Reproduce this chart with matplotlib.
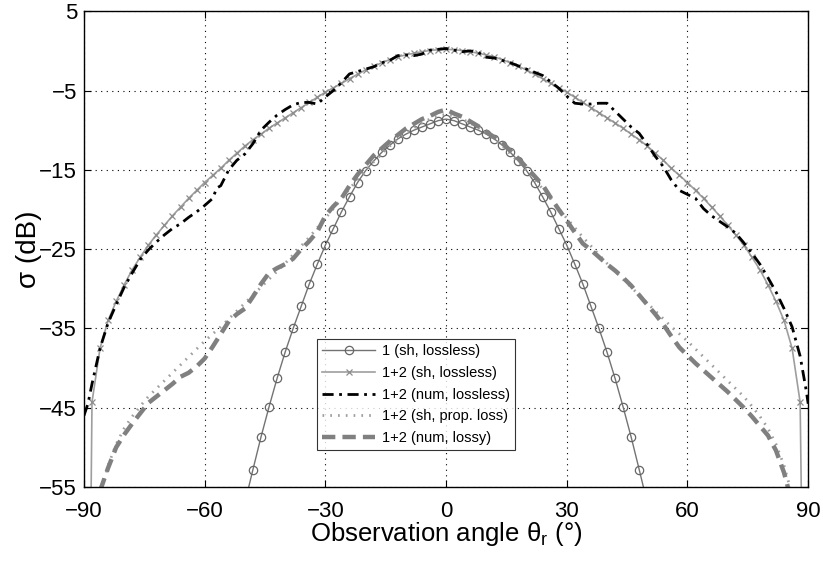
import numpy as np
import matplotlib
matplotlib.use("Agg")
import matplotlib.pyplot as plt

plt.rcParams['font.family'] = ['Liberation Sans', 'DejaVu Sans']

# angles (deg) for the curves
ang_1sh = list(range(-50, 51, 2))
# 1 (sh, lossless): circles
s_1sh = [-57.0, -52.8, -48.7, -44.9, -41.3, -38.0, -35.0, -32.2, -29.4, -26.9,
         -24.5, -22.4, -20.3, -18.4, -16.6, -15.1, -13.9, -12.8, -11.9, -11.1,
         -10.5, -10.0, -9.6, -9.2, -8.8, -8.6, -8.8, -9.2, -9.6, -10.0,
         -10.5, -11.1, -11.9, -12.8, -13.9, -15.1, -16.6, -18.4, -20.3, -22.4,
         -24.5, -26.9, -29.4, -32.2, -35.0, -38.0, -41.3, -44.9, -48.7, -52.8,
         -57.0]

# 1+2 (sh, lossless): crosses
ang_12sh = [-88.3] + list(range(-88, 89, 2)) + [88.4]
s_12sh = [-60.0,
          -44.3, -37.5, -34.0, -31.6, -29.5, -27.6, -26.0, -24.5, -23.2, -22.0,
          -20.8, -19.7, -18.6, -17.6, -16.6, -15.7, -14.8, -13.8, -12.9, -12.0,
          -11.2, -10.5, -9.75, -9.1, -8.45, -7.8, -7.15, -6.5, -5.85, -5.2,
          -4.65, -4.1, -3.5, -2.95, -2.4, -1.95, -1.5, -1.1, -0.75, -0.5,
          -0.3, -0.1, 0.05, 0.15, 0.2, 0.15, 0.05, -0.1, -0.3, -0.5,
          -0.75, -1.1, -1.5, -1.95, -2.4, -2.95, -3.5, -4.1, -4.65, -5.2,
          -5.85, -6.5, -7.15, -7.8, -8.45, -9.1, -9.75, -10.5, -11.2, -12.0,
          -12.9, -13.8, -14.8, -15.7, -16.6, -17.6, -18.6, -19.7, -20.8, -22.0,
          -23.2, -24.5, -26.0, -27.6, -29.5, -31.6, -34.0, -37.5, -44.3,
          -60.0]

# 1+2 (num, lossless): dash-dot black
ang_num = [-90, -89, -88, -86, -84, -82, -80, -78, -76, -74, -72, -70, -68, -66,
           -64, -62, -60, -58, -57, -56, -54, -52, -50, -48, -46, -44, -42,
           -40, -38, -36, -34, -32, -30, -28, -26, -24, -22, -20, -18, -16,
           -14, -12, -10, -8, -6, -4, -2, 0, 2, 4, 6, 8, 10, 12, 14, 16, 18,
           20, 22, 24, 26, 28, 30, 32, 34, 36, 38, 40, 42, 44, 46, 48, 50, 52,
           54, 56, 58, 60, 62, 64, 66, 68, 70, 72, 74, 76, 78, 80, 82, 84, 86,
           88, 89.5, 90]
s_num = [-46.0, -44.5, -42.0, -37.5, -34.3, -32.0, -29.8, -28.0, -26.3, -25.1,
         -24.1, -23.2, -22.4, -21.8, -21.0, -20.3, -19.5, -18.6, -17.3, -17.0,
         -15.0, -13.8, -13.0, -11.7, -10.0, -9.0, -8.1, -7.4, -6.8, -6.5,
         -6.5, -6.7, -5.8, -5.0, -4.0, -2.9, -2.6, -2.3, -2.0, -1.5,
         -1.2, -0.6, -0.5, -0.6, -0.4, 0.1, 0.2, 0.3, 0.1, -0.1,
         0.0, -0.2, -0.8, -0.9, -1.2, -1.5, -1.9, -2.3, -2.7, -3.1,
         -3.9, -4.7, -5.7, -6.6, -6.7, -6.7, -6.6, -6.6, -7.6, -8.6,
         -9.6, -10.4, -11.8, -13.3, -14.6, -16.3, -17.6, -18.1, -18.6, -19.9,
         -20.8, -21.5, -22.2, -23.0, -24.2, -25.5, -26.9, -28.6, -30.4, -32.5,
         -34.8, -38.5, -42.8, -44.5]

ang_loss = list(range(-86, 87, 2))
# 1+2 (sh, prop. loss): dotted
s_prop = [-56.0, -52.3, -49.6, -47.6, -46.1, -44.8, -43.6, -42.6, -41.6, -40.6,
          -39.6, -38.6, -37.6, -36.6, -35.7, -34.8, -33.8, -32.8, -31.8, -30.8,
          -29.8, -28.8, -27.8, -26.8, -25.7, -24.6, -23.5, -22.3, -21.1, -19.9,
          -18.6, -17.4, -16.2, -15.1, -14.0, -13.0, -12.0, -11.1, -10.4, -9.7,
          -9.1, -8.6, -8.2, -8.0, -8.2, -8.6, -9.1, -9.7, -10.4, -11.1,
          -12.0, -13.0, -14.0, -15.1, -16.2, -17.4, -18.6, -19.9, -21.1, -22.3,
          -23.5, -24.6, -25.7, -26.8, -27.8, -28.8, -29.8, -30.8, -31.8, -32.8,
          -33.8, -34.8, -35.7, -36.6, -37.6, -38.6, -39.6, -40.6, -41.6, -42.6,
          -43.6, -44.8, -46.1, -47.6, -49.6, -52.3, -56.0]
# 1+2 (num, lossy): dashed
s_lossy = [-55.5, -52.6, -50.0, -48.4, -47.0, -45.7, -44.4, -43.6, -42.8, -42.0,
           -41.1, -40.6, -39.8, -38.8, -37.3, -35.7, -34.1, -33.2, -32.5, -31.0,
           -29.4, -28.0, -27.4, -26.9, -26.2, -25.0, -24.0, -22.8, -20.8, -19.6,
           -18.6, -17.0, -15.6, -14.4, -13.2, -12.3, -11.4, -10.6, -9.8, -9.2,
           -8.6, -8.2, -7.7, -7.4, -7.9, -8.3, -8.9, -9.5, -10.2, -10.9,
           -11.6, -12.6, -13.6, -14.7, -15.8, -16.9, -18.5, -20.0, -21.4, -22.9,
           -24.3, -25.1, -26.0, -26.9, -27.7, -28.6, -29.6, -30.8, -32.0, -33.2,
           -34.5, -36.0, -37.4, -38.4, -39.4, -40.3, -41.2, -42.1, -43.0, -44.0,
           -45.0, -46.1, -47.3, -48.5, -50.4, -53.2, -57.0]

labels = ['1 (sh, lossless)', '1+2 (sh, lossless)', '1+2 (num, lossless)',
          '1+2 (sh, prop. loss)', '1+2 (num, lossy)']

fig = plt.figure(figsize=(8.23, 5.63), dpi=100)
ax = fig.add_axes([0.102, 0.135, 0.880, 0.845])

ax.plot(ang_1sh, s_1sh, color='0.45', lw=1.0, marker='o', ms=6,
        mfc='none', mec='0.4', mew=0.9, label=labels[0])
ax.plot(ang_12sh, s_12sh, color='0.62', lw=1.2, marker='x', ms=4.5,
        mew=0.9, mec='0.55', label=labels[1])
ax.plot(ang_num, s_num, color='black', lw=2.0,
        dashes=(4, 2, 1, 2), label=labels[2])
ax.plot(ang_loss, s_prop, color='0.62', lw=2.0, linestyle=(0, (0.6, 2.2)),
        label=labels[3])
ax.plot(ang_loss, s_lossy, color='0.5', lw=3.2, dashes=(3, 1.6),
        label=labels[4])

ax.set_xlim(-90, 90)
ax.set_ylim(-55, 5)
ax.set_xticks(np.arange(-90, 91, 30))
ax.set_yticks(np.arange(-55, 6, 10))
ax.grid(True, color='black', linestyle=(0, (1, 4)), lw=0.8)
ax.tick_params(direction='in', top=True, right=True, labelsize=16, length=5)
ax.tick_params(axis='x', pad=10)
ax.tick_params(axis='y', pad=5)
for s in ax.spines.values():
    s.set_linewidth(1.0)

ax.set_xlabel(r'Observation angle θ$_{\mathregular{r}}$ (°)', fontsize=18.5,
              labelpad=-1)
ax.set_ylabel('σ (dB)', fontsize=20, labelpad=-2)

leg = ax.legend(loc='lower left', bbox_to_anchor=(0.322, 0.078), fontsize=10.5,
                frameon=True, fancybox=False, edgecolor='black',
                borderpad=0.35, labelspacing=0.52, handlelength=3.6,
                handletextpad=0.5, borderaxespad=0)
leg.get_frame().set_linewidth(0.8)

fig.savefig('out.png', dpi=100)
